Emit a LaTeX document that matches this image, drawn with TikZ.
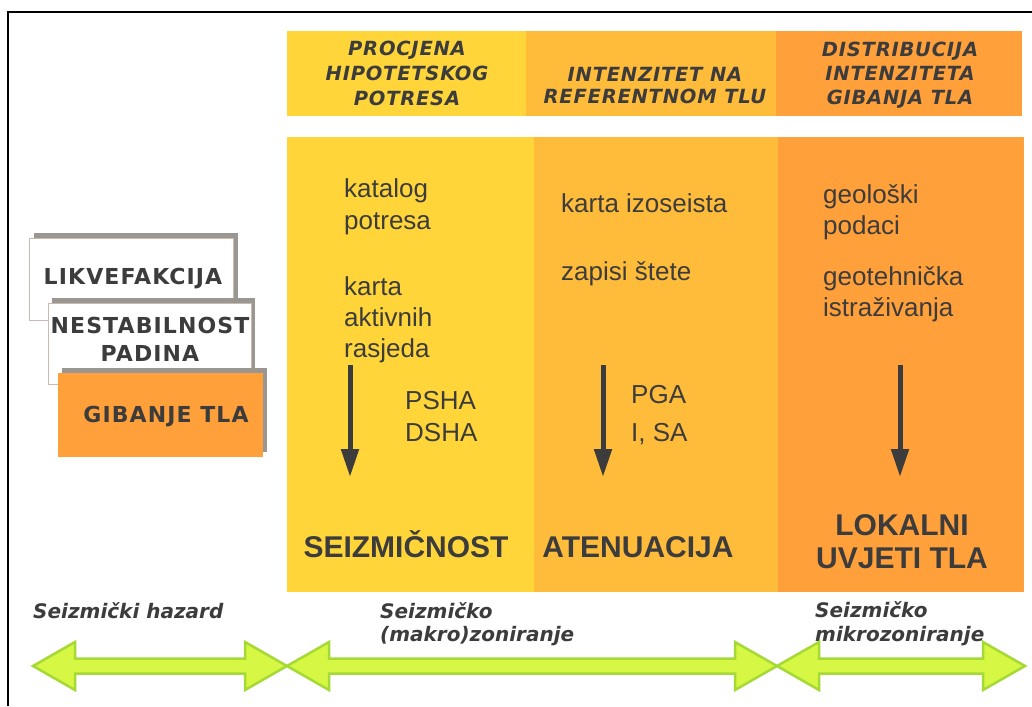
\documentclass[tikz,border=0pt]{standalone}
\usepackage{fontspec}
\setmainfont{Liberation Sans}
\newfontfamily\verdhdr{DejaVu Sans}[LetterSpace=4]
\newfontfamily\verdbox{DejaVu Sans}[LetterSpace=5]
\newfontfamily\verdlab{DejaVu Sans}
\usetikzlibrary{arrows.meta}
\definecolor{colA}{HTML}{FFD53A}
\definecolor{colB}{HTML}{FFBB3A}
\definecolor{colC}{HTML}{FFA03A}
\definecolor{txt}{HTML}{3C3C3C}
\definecolor{shadegray}{HTML}{9A9692}
\definecolor{boxedge}{HTML}{C9B9AE}
\definecolor{gfill}{HTML}{D6F743}
\definecolor{gedge}{HTML}{A5D936}
\newcommand\dblarr[2]{%
  \draw[garr] (#1,666) -- (#1+42,642) -- (#1+42,658.5) -- (#2-42,658.5) -- (#2-42,642) -- (#2,666)
    -- (#2-42,690) -- (#2-42,673.5) -- (#1+42,673.5) -- (#1+42,690) -- cycle;}
\begin{document}
\begin{tikzpicture}[x=1pt,y=-1pt,
  hdr/.style={font=\verdhdr\bfseries\itshape\fontsize{19.5}{24}\selectfont, text=txt, anchor=base, inner sep=0},
  body/.style={font=\fontsize{26}{31}\selectfont, text=txt, anchor=base west, inner sep=0},
  big/.style={font=\bfseries\fontsize{30}{32}\selectfont, text=txt, anchor=base, inner sep=0},
  lab/.style={font=\verdlab\bfseries\itshape\fontsize{20}{24}\selectfont, text=txt, anchor=base west, inner sep=0},
  boxtxt/.style={font=\verdbox\bfseries\fontsize{22}{28}\selectfont, text=txt, anchor=base, inner sep=0},
  darr/.style={line width=5pt, draw=txt, -{Triangle[width=17pt,length=28pt]}},
  garr/.style={fill=gfill, draw=gedge, line width=2.5pt, line join=miter},
  frame/.style={line width=2pt, draw=black}]
\useasboundingbox (0,0) rectangle (1032,706);
\fill[white] (0,0) rectangle (1032,706);
% frame
\coordinate (fA) at (8,706);
\coordinate (fB) at (8,12);
\coordinate (fC) at (1032,12);
\draw[frame] (fA) -- (fB) -- (fC);
% header bar
\fill[colA] (287,31) rectangle (526,116);
\fill[colB] (526,31) rectangle (776,116);
\fill[colC] (776,31) rectangle (1022,116);
% body columns
\fill[colA] (287,137) rectangle (534,592);
\fill[colB] (534,137) rectangle (778,592);
\fill[colC] (778,137) rectangle (1024,592);
% header texts
\node[hdr] (h1a) at (407,56) {PROCJENA};
\node[hdr] (h1b) at (407,81) {HIPOTETSKOG};
\node[hdr] (h1c) at (407,106) {POTRESA};
\node[hdr] (h2a) at (655,82) {INTENZITET NA};
\node[hdr] (h2b) at (655,104) {REFERENTNOM TLU};
\node[hdr] (h3a) at (900,57) {DISTRIBUCIJA};
\node[hdr] (h3b) at (900,81) {INTENZITETA};
\node[hdr] (h3c) at (900,105) {GIBANJA TLA};
% body texts
\node[body] (t1a) at (344,197) {katalog};
\node[body] (t1b) at (344,229) {potresa};
\node[body] (t1c) at (344,295) {karta};
\node[body] (t1d) at (344,326) {aktivnih};
\node[body] (t1e) at (344,357) {rasjeda};
\node[body] (t1f) at (405,409) {PSHA};
\node[body] (t1g) at (405,441) {DSHA};
\node[body] (t2a) at (561,212) {karta izoseista};
\node[body] (t2b) at (561,280) {zapisi štete};
\node[body] (t2c) at (631,403) {PGA};
\node[body] (t2d) at (631,441) {I, SA};
\node[body] (t3a) at (823,203) {geološki};
\node[body] (t3b) at (823,234) {podaci};
\node[body] (t3c) at (823,285) {geotehnička};
\node[body] (t3d) at (823,316) {istraživanja};
% dark arrows
\coordinate (a1s) at (350,365); \coordinate (a1e) at (350,477);
\coordinate (a2s) at (603,365); \coordinate (a2e) at (603,477);
\coordinate (a3s) at (900,365); \coordinate (a3e) at (900,477);
\draw[darr] (a1s) -- (a1e);
\draw[darr] (a2s) -- (a2e);
\draw[darr] (a3s) -- (a3e);
% big labels
\node[big] (s1) at (406,557) {SEIZMIČNOST};
\node[big] (s2) at (638,557) {ATENUACIJA};
\node[big] (s3a) at (902,535) {LOKALNI};
\node[big] (s3b) at (902,568) {UVJETI TLA};
% left stacked boxes
\fill[shadegray] (34,233) rectangle (238,315);
\filldraw[fill=white, draw=boxedge, line width=1pt] (29,238) rectangle (233,320);
\node[boxtxt] (k1) at (133,284) {LIKVEFAKCIJA};
\fill[shadegray] (52,298) rectangle (255,379);
\filldraw[fill=white, draw=boxedge, line width=1pt] (48,303) rectangle (251,384);
\node[boxtxt] (k2a) at (150,333) {NESTABILNOST};
\node[boxtxt] (k2b) at (150,361) {PADINA};
\fill[shadegray] (62,368) rectangle (267,452);
\fill[colC] (58,373) rectangle (263,457);
\node[boxtxt] (k3) at (166,422) {GIBANJE TLA};
% bottom labels
\node[lab] (l1) at (33,618) {Seizmički hazard};
\node[lab] (l2a) at (380,618) {Seizmičko};
\node[lab] (l2b) at (380,641) {(makro)zoniranje};
\node[lab] (l3a) at (815,617) {Seizmičko};
\node[lab] (l3b) at (815,641) {mikrozoniranje};
% green double arrows
\dblarr{33}{287}
\dblarr{287}{777}
\dblarr{777}{1025}
\end{tikzpicture}
\end{document}
